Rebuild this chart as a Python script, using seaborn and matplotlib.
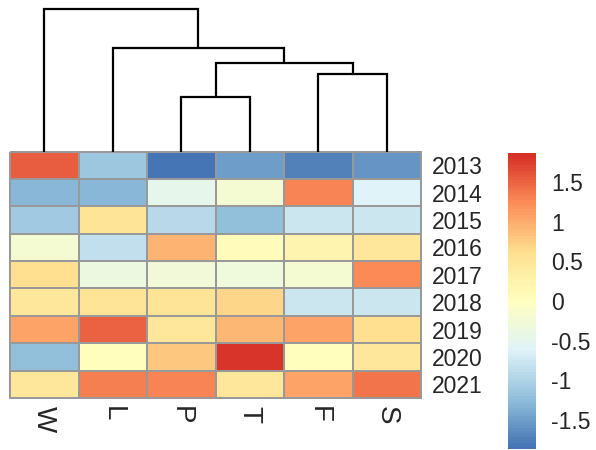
import numpy as np
import pandas as pd
import matplotlib
matplotlib.use("Agg")
import matplotlib.pyplot as plt
from matplotlib.colors import LinearSegmentedColormap, ListedColormap
import seaborn as sns

# Column-scaled values, one list per year (columns W, L, P, T, F, S)
years = ["2013", "2014", "2015", "2016", "2017", "2018", "2019", "2020", "2021"]
columns = ["W", "L", "P", "T", "F", "S"]
v2013 = [1.55, -1.15, -1.87, -1.50, -1.75, -1.60]
v2014 = [-1.30, -1.28, -0.45, -0.20, 1.30, -0.60]
v2015 = [-1.10, 0.55, -0.90, -1.20, -0.75, -0.75]
v2016 = [-0.20, -0.85, 0.95, 0.05, 0.20, 0.45]
v2017 = [0.62, -0.35, -0.28, -0.33, -0.20, 1.25]
v2018 = [0.45, 0.55, 0.55, 0.70, -0.75, -0.75]
v2019 = [1.05, 1.50, 0.45, 0.90, 1.05, 0.62]
v2020 = [-1.20, 0.02, 0.80, 1.80, 0.02, 0.45]
v2021 = [0.45, 1.32, 1.30, 0.48, 1.05, 1.40]

# Column dendrogram: (left id, right id, height), leaves 0..5, new clusters 6..
merge_left = [2, 4, 6, 1, 0]
merge_right = [3, 5, 7, 8, 9]
merge_height = [2.35, 3.33, 3.80, 4.45, 6.14]

cbar_ticks = [-1.5, -1, -0.5, 0, 0.5, 1, 1.5]
cbar_labels = ["-1.5", "-1", "-0.5", "0", "0.5", "1", "1.5"]

df = pd.DataFrame([v2013, v2014, v2015, v2016, v2017, v2018, v2019, v2020, v2021],
                  index=years, columns=columns)

palette = ["#4575B4", "#91BFDB", "#E0F3F8", "#FFFFBF", "#FEE090", "#FC8D59", "#D73027"]
ramp = LinearSegmentedColormap.from_list("ramp", palette)
cmap = ListedColormap(ramp(np.linspace(0, 1, 100)))
lim = float(np.abs(df.values).max())

sns.set_style("white")
plt.rcParams["font.family"] = ["Liberation Sans", "DejaVu Sans"]

W, H = 596, 450
fig = plt.figure(figsize=(W / 100, H / 100), dpi=100)

def frac(x0, y0, x1, y1):
    return [x0 / W, 1 - y1 / H, (x1 - x0) / W, (y1 - y0) / H]

ax = fig.add_axes(frac(10, 151.5, 421, 398))
dax = fig.add_axes(frac(10, 9.3, 421, 151.5))
cax = fig.add_axes(frac(508, 153, 536, 449))

sns.heatmap(df, ax=ax, cmap=cmap, vmin=-lim, vmax=lim, linewidths=1.2,
            linecolor="#999999", cbar_ax=cax)
ax.collections[0].set_clip_on(False)
for s in ax.spines.values():
    s.set_visible(False)

ax.yaxis.tick_right()
ax.tick_params(axis="y", length=0, pad=8, labelsize=16.5, rotation=0)
ax.tick_params(axis="x", length=0, pad=6, labelsize=20)
plt.setp(ax.get_xticklabels(), rotation=270, va="top", ha="center")
ax.set_xlabel("")
ax.set_ylabel("")

# Colorbar legend
cb = ax.collections[0].colorbar
cb.outline.set_visible(False)
cb.set_ticks(cbar_ticks)
cb.set_ticklabels(cbar_labels)
cax.tick_params(length=0, pad=11, labelsize=16.5)

# Dendrogram drawn from the merge list
pos = {i: i + 0.5 for i in range(len(columns))}
hgt = {i: 0.0 for i in range(len(columns))}
for k, (a, b, h) in enumerate(zip(merge_left, merge_right, merge_height)):
    xa, xb = pos[a], pos[b]
    dax.plot([xa, xa, xb, xb], [hgt[a], h, h, hgt[b]], color="black", lw=1.6,
             solid_joinstyle="miter", solid_capstyle="butt")
    nid = len(columns) + k
    pos[nid] = (xa + xb) / 2
    hgt[nid] = h
dax.set_xlim(0, len(columns))
dax.set_ylim(0, max(merge_height))
dax.axis("off")
for ln in dax.lines:
    ln.set_clip_on(False)

fig.savefig("out.png", dpi=100)
